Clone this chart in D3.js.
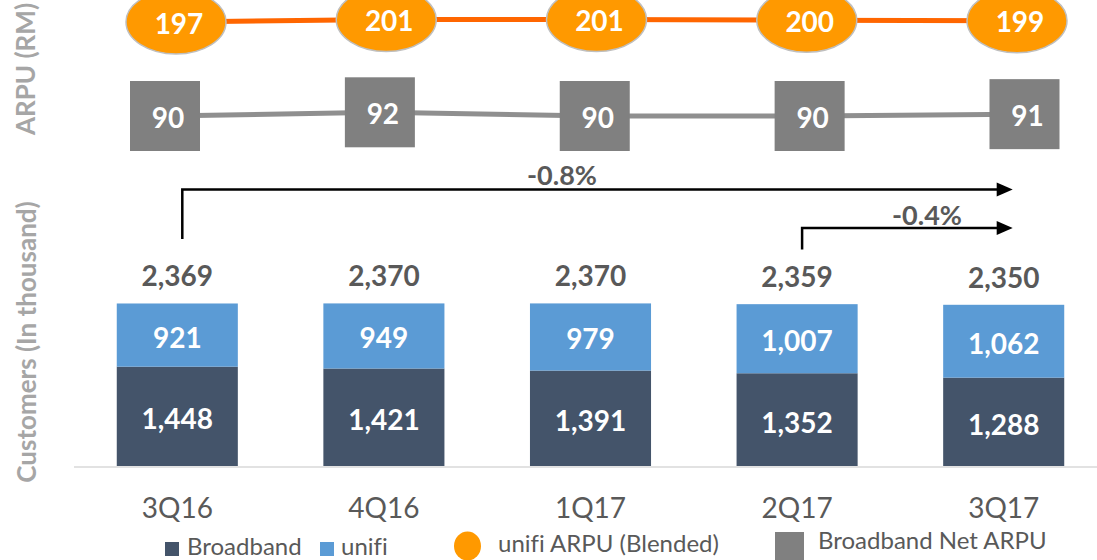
<!DOCTYPE html>
<html>
<head>
<meta charset="utf-8">
<script src="https://cdn.jsdelivr.net/npm/d3@7"></script>
<style>
  html, body { margin: 0; padding: 0; background: #fff; }
  svg { display: block; font-family: Lato, "Open Sans", sans-serif; font-variant-ligatures: none; }
</style>
</head>
<body>
<svg id="chart" width="1097" height="560"></svg>
<script>
// ---- data ----
const categories = ["3Q16", "4Q16", "1Q17", "2Q17", "3Q17"];
const broadband = [1448, 1421, 1391, 1352, 1288];
const unifi = [921, 949, 979, 1007, 1062];
const totals = [2369, 2370, 2370, 2359, 2350];
const unifiArpu = [197, 201, 201, 200, 199];
const netArpu = [90, 92, 90, 90, 91];
const growthLabels = ["-0.8%", "-0.4%"];
const legendLabels = ["Broadband", "unifi", "unifi ARPU (Blended)", "Broadband Net ARPU"];
const axisTitles = ["ARPU (RM)", "Customers (In thousand)"];

// ---- styles ----
const C_BB = "#44546A", C_UNIFI = "#5B9BD5", C_ORANGE = "#FF9900", C_OLINE = "#FF6600";
const C_GRAY = "#808080", C_GLINE = "#8F8F8F", C_TEXT = "#595959", C_TITLE = "#A6A6A6";

const svg = d3.select("#chart");
const fmt = d3.format(",");

// ---- scales ----
const x = d3.scaleBand().domain(categories).range([74, 1107]).paddingInner(0.414).paddingOuter(0.207);
const y = d3.scaleLinear().domain([0, 2500]).range([466, 466 - 2500 * 0.0686]);
const xo = d3.scalePoint().domain(categories).range([176, 1017]);
const yo = d3.scaleLinear().domain([190, 210]).range([26.2, 14.2]);
const xg = d3.scalePoint().domain(categories).range([165, 1024.5]);
const yg = d3.scaleLinear().domain([80, 100]).range([134.5, 97.5]);
const cx = c => x(c) + x.bandwidth() / 2;

// ---- axis titles ----
svg.append("text").attr("transform", "translate(25,69) rotate(-90)")
  .attr("text-anchor", "middle").attr("dominant-baseline", "central")
  .attr("font-size", 26).attr("font-weight", 700).attr("fill", C_TITLE).text(axisTitles[0]);
svg.append("text").attr("transform", "translate(26,342) rotate(-90)")
  .attr("text-anchor", "middle").attr("dominant-baseline", "central")
  .attr("font-size", 26).attr("font-weight", 700).attr("fill", C_TITLE).text(axisTitles[1]);

// ---- bars ----
const stack = categories.map((c, i) => ({ c, bb: broadband[i], un: unifi[i], tot: totals[i] }));
const g = svg.append("g");
g.selectAll("rect.bb").data(stack).join("rect").attr("class", "bb")
  .attr("x", d => x(d.c)).attr("width", x.bandwidth())
  .attr("y", d => y(d.bb)).attr("height", d => y(0) - y(d.bb)).attr("fill", C_BB);
g.selectAll("rect.un").data(stack).join("rect").attr("class", "un")
  .attr("x", d => x(d.c)).attr("width", x.bandwidth())
  .attr("y", d => y(d.bb + d.un)).attr("height", d => y(d.bb) - y(d.bb + d.un)).attr("fill", C_UNIFI);

// baseline axis
const xAxis = d3.axisBottom(x).tickSize(0).tickPadding(0);
const ax = svg.append("g").attr("transform", "translate(0,467)").call(xAxis);
ax.select(".domain").attr("stroke", "#D9D9D9").attr("stroke-width", 1.5).attr("d", "M74,0H1097");
ax.selectAll(".tick text").attr("y", 51).attr("dy", 0).attr("font-size", 28)
  .attr("font-family", "Lato, sans-serif").attr("font-weight", 400).attr("fill", C_TEXT);

// segment labels
g.selectAll("text.bbl").data(stack).join("text").attr("class", "bbl")
  .attr("x", d => cx(d.c)).attr("y", d => (y(0) + y(d.bb)) / 2 + 2)
  .attr("text-anchor", "middle").attr("dominant-baseline", "central")
  .attr("font-size", 28).attr("font-weight", 700).attr("fill", "#fff").text(d => fmt(d.bb));
g.selectAll("text.unl").data(stack).join("text").attr("class", "unl")
  .attr("x", d => cx(d.c)).attr("y", d => (y(d.bb) + y(d.bb + d.un)) / 2 + 1.5)
  .attr("text-anchor", "middle").attr("dominant-baseline", "central")
  .attr("font-size", 28).attr("font-weight", 700).attr("fill", "#fff").text(d => fmt(d.un));
g.selectAll("text.tot").data(stack).join("text").attr("class", "tot")
  .attr("x", d => cx(d.c)).attr("y", d => y(d.tot) - 28)
  .attr("text-anchor", "middle").attr("dominant-baseline", "central")
  .attr("font-size", 28).attr("font-weight", 700).attr("fill", C_TEXT).text(d => fmt(d.tot));

// ---- growth brackets ----
const arrows = [
  { from: categories[0], to: categories[4], top: 189.5, bottom: 239, label: growthLabels[0], lx: 562, ly: 174 },
  { from: categories[3], to: categories[4], top: 228, bottom: 249.5, label: growthLabels[1], lx: 927, ly: 214 }
];
arrows.forEach(a => {
  const x0 = cx(a.from) + 5, x1 = cx(a.to) + 9;
  svg.append("path").attr("d", `M${x0},${a.bottom}V${a.top}H${x1 - 14}`)
    .attr("fill", "none").attr("stroke", "#000").attr("stroke-width", 2.5);
  svg.append("path").attr("d", `M${x1 - 16},${a.top - 7}L${x1},${a.top}L${x1 - 16},${a.top + 7}Z`).attr("fill", "#000");
  svg.append("text").attr("x", a.lx).attr("y", a.ly).attr("text-anchor", "middle").attr("dominant-baseline", "central")
    .attr("font-size", 27).attr("font-weight", 700).attr("fill", C_TEXT).text(a.label);
});

// ---- ARPU lines ----
const oPts = categories.map((c, i) => ({ c, v: unifiArpu[i] }));
const gPts = categories.map((c, i) => ({ c, v: netArpu[i] }));
svg.append("path").datum(gPts).attr("fill", "none").attr("stroke", C_GLINE).attr("stroke-width", 5)
  .attr("d", d3.line().x(d => xg(d.c)).y(d => yg(d.v)));
svg.selectAll("rect.sq").data(gPts).join("rect").attr("class", "sq")
  .attr("x", d => xg(d.c) - 35).attr("y", d => yg(d.v) - 35).attr("width", 70).attr("height", 70).attr("fill", C_GRAY);
svg.selectAll("text.sql").data(gPts).join("text").attr("class", "sql")
  .attr("x", d => xg(d.c) + 3).attr("y", d => yg(d.v) + 1)
  .attr("text-anchor", "middle").attr("dominant-baseline", "central")
  .attr("font-size", 28).attr("font-weight", 700).attr("fill", "#fff").text(d => d.v);

svg.append("path").datum(oPts).attr("fill", "none").attr("stroke", C_OLINE).attr("stroke-width", 5)
  .attr("d", d3.line().x(d => xo(d.c)).y(d => yo(d.v)));
svg.selectAll("ellipse.el").data(oPts).join("ellipse").attr("class", "el")
  .attr("cx", d => xo(d.c)).attr("cy", d => yo(d.v)).attr("rx", 50).attr("ry", 32)
  .attr("fill", C_ORANGE).attr("stroke", "#BFBFBF").attr("stroke-width", 1.5);
svg.selectAll("text.ell").data(oPts).join("text").attr("class", "ell")
  .attr("x", d => xo(d.c) + 3).attr("y", d => yo(d.v) + 0.5)
  .attr("text-anchor", "middle").attr("dominant-baseline", "central")
  .attr("font-size", 28).attr("font-weight", 700).attr("fill", "#fff").text(d => d.v);

// ---- legend ----
const lg = svg.append("g").attr("font-size", 24).attr("fill", C_TEXT);
lg.append("rect").attr("x", 165).attr("y", 542).attr("width", 14).attr("height", 14).attr("fill", C_BB);
lg.append("text").attr("x", 187).attr("y", 555).text(legendLabels[0]);
lg.append("rect").attr("x", 320).attr("y", 542).attr("width", 14).attr("height", 14).attr("fill", C_UNIFI);
lg.append("text").attr("x", 341).attr("y", 555).text(legendLabels[1]);
lg.append("ellipse").attr("cx", 467.5).attr("cy", 546).attr("rx", 13.5).attr("ry", 14.5).attr("fill", C_ORANGE);
lg.append("text").attr("x", 498).attr("y", 552).text(legendLabels[2]);
lg.append("rect").attr("x", 775).attr("y", 532).attr("width", 29).attr("height", 28).attr("fill", C_GRAY);
lg.append("text").attr("x", 818).attr("y", 549).text(legendLabels[3]);
</script>
</body>
</html>
